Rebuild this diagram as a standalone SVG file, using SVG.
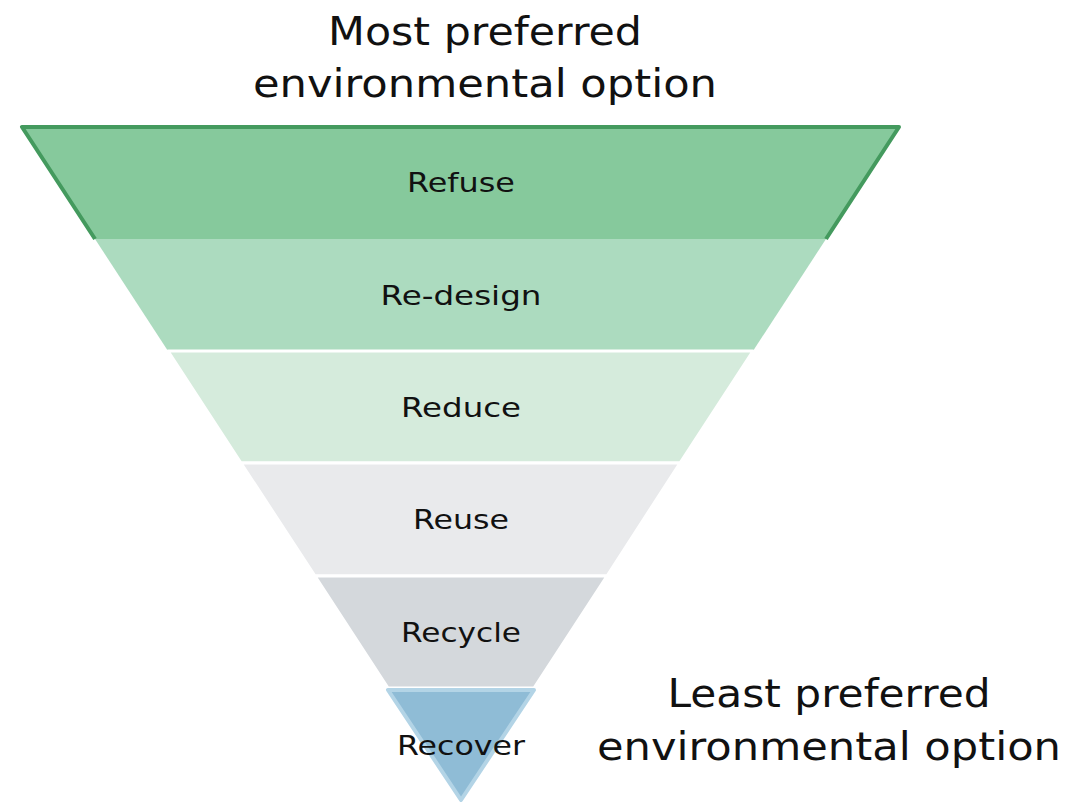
<svg xmlns="http://www.w3.org/2000/svg" width="1066" height="802" viewBox="0 0 1066 802">
<style>
.title{font-family:"DejaVu Sans","Open Sans",sans-serif;font-size:39px;fill:#111;text-anchor:middle}
.lbl{font-family:"DejaVu Sans","Open Sans",sans-serif;font-size:27px;fill:#111;text-anchor:middle}
.sep{stroke:#ffffff;stroke-width:3;stroke-linejoin:round}
</style>
<rect width="1066" height="802" fill="#ffffff"/>
<g id="title-top">
<text class="title" x="485" y="45" textLength="314" lengthAdjust="spacingAndGlyphs">Most preferred</text>
<text class="title" x="485" y="97" textLength="464" lengthAdjust="spacingAndGlyphs">environmental option</text>
</g>
<g id="refuse">
<polygon points="22,127 899,127 826,239 95,239" fill="#86c99c"/>
<polyline points="95,239 22,127 899,127 826,239" fill="none" stroke="#449a5e" stroke-width="4" stroke-linejoin="round"/>
<text class="lbl" x="461" y="192" textLength="108" lengthAdjust="spacingAndGlyphs">Refuse</text>
</g>
<g id="re-design">
<polygon points="95,239 826,239 753,351 168,351" fill="#acdbbf"/>
<text class="lbl" x="461" y="305" textLength="161" lengthAdjust="spacingAndGlyphs">Re-design</text>
</g>
<g id="reduce">
<polygon class="sep" points="168,351 753,351 680,463 241,463" fill="#d5ebdc"/>
<text class="lbl" x="461" y="417" textLength="120" lengthAdjust="spacingAndGlyphs">Reduce</text>
</g>
<g id="reuse">
<polygon class="sep" points="241,463 680,463 607,576 315,576" fill="#e9eaec"/>
<text class="lbl" x="461" y="529" textLength="96" lengthAdjust="spacingAndGlyphs">Reuse</text>
</g>
<g id="recycle">
<polygon class="sep" points="315,576 607,576 534,688 388,688" fill="#d4d8dc"/>
<text class="lbl" x="461" y="642" textLength="120" lengthAdjust="spacingAndGlyphs">Recycle</text>
</g>
<g id="recover">
<polygon points="388,690 534,690 461,800" fill="#8fbcd6" stroke="#b3d4e6" stroke-width="4" stroke-linejoin="round"/>
<text class="lbl" x="461" y="755" textLength="128" lengthAdjust="spacingAndGlyphs">Recover</text>
</g>
<g id="title-bottom">
<text class="title" x="829" y="707" textLength="323" lengthAdjust="spacingAndGlyphs">Least preferred</text>
<text class="title" x="829" y="760" textLength="464" lengthAdjust="spacingAndGlyphs">environmental option</text>
</g>
</svg>
